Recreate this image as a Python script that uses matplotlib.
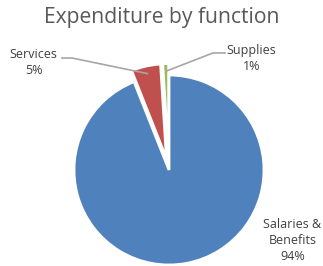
import numpy as np
import matplotlib

matplotlib.use('Agg')
import matplotlib.pyplot as plt

labels = ['Salaries &\nBenefits', 'Services', 'Supplies']
values = [94, 5, 1]
colors = ['#4F81BD', '#C0504D', '#9BBB59']
explode = [0, 0.12, 0.12]

plt.rcParams['font.family'] = ['Open Sans', 'DejaVu Sans']

W, H = 323, 266
fig = plt.figure(figsize=(W / 100, H / 100), dpi=100)
cx, cy, r = 169, 170, 95
ax = fig.add_axes([(cx - r) / W, (H - cy - r) / H, 2 * r / W, 2 * r / H])

wedges, _ = ax.pie(values, colors=colors, startangle=90, counterclock=False, explode=explode,
                   wedgeprops=dict(edgecolor='white', linewidth=2))
ax.set_xlim(-1, 1)
ax.set_ylim(-1, 1)
ax.set_aspect('equal')
ax.axis('off')

fig.text(0.5, 1 - 17 / H, 'Expenditure by function', ha='center', va='center',
         fontsize=15.2, color='#595959')

# label positions in data units (radius = 1)
text_pos = [(1.30, -0.74), (-1.426, 1.132), (0.868, 1.174)]
elbow = [None, (-1.021, 1.179), (0.463, 1.232)]
line_end = [None, (-1.126, 1.179), (0.589, 1.232)]

for i, w in enumerate(wedges):
    pct = '%d%%' % values[i]
    ax.text(text_pos[i][0], text_pos[i][1], labels[i] + '\n' + pct, ha='center', va='center',
            fontsize=9, color='#404040', linespacing=1.3)
    if elbow[i] is not None:
        mid = np.deg2rad((w.theta1 + w.theta2) / 2)
        rr = 0.92 + explode[i]
        ax_pt = (rr * np.cos(mid), rr * np.sin(mid))
        xs = [ax_pt[0], elbow[i][0], line_end[i][0]]
        ys = [ax_pt[1], elbow[i][1], line_end[i][1]]
        ax.plot(xs, ys, color='#A6A6A6', lw=1.2, clip_on=False)

fig.savefig('out.png', dpi=100)
